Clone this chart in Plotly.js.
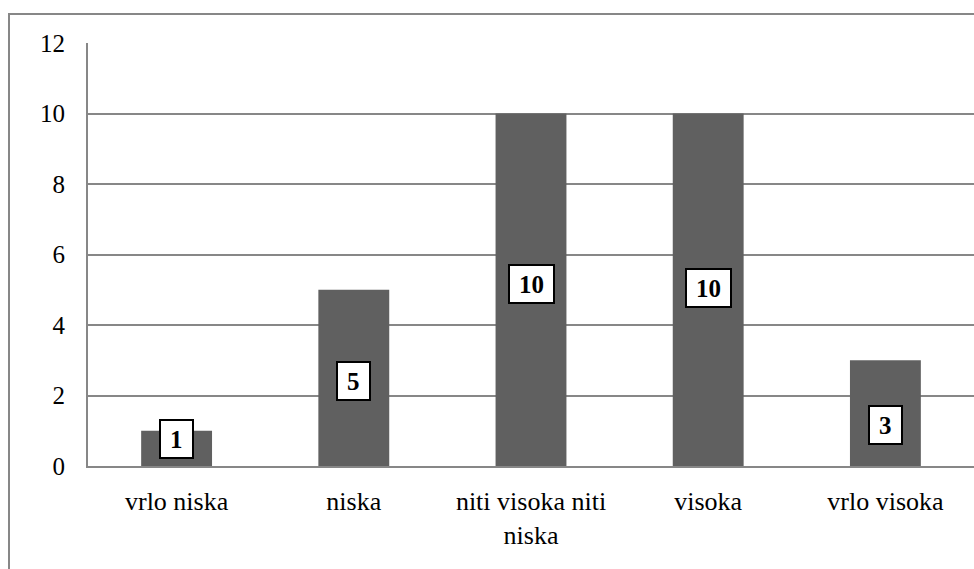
<!DOCTYPE html>
<html>
<head>
<meta charset="utf-8">
<script src="https://cdn.plot.ly/plotly-3.0.1.min.js"></script>
<style>
html, body { margin: 0; padding: 0; background: #fff; }
#frame { position: absolute; left: 8px; top: 13px; width: 1000px; height: 600px; border: 2px solid #878787; box-sizing: border-box; }
#chart { position: absolute; left: 0; top: 0; width: 974px; height: 569px; }
</style>
</head>
<body>
<div id="frame"></div>
<div id="chart"></div>
<script>
var categories = ["vrlo niska", "niska", "niti visoka niti<br>niska", "visoka", "vrlo visoka"];
var values = [1, 5, 10, 10, 3];
var labelY = [0.77, 2.4, 5.15, 5.05, 1.15];
var yTicks = [0, 2, 4, 6, 8, 10, 12];

var SERIF = "Liberation Serif";

var trace = {
  type: "bar",
  x: categories,
  y: values,
  marker: { color: "#606060" },
  width: 0.4,
  hoverinfo: "none"
};

var annotations = categories.map(function (c, i) {
  var s = String(values[i]);
  return {
    x: c, y: labelY[i], xref: "x", yref: "y",
    text: "<b>" + s + "</b>",
    showarrow: false,
    font: { family: SERIF, size: 25, color: "#000" },
    bgcolor: "#ffffff",
    bordercolor: "#000000",
    borderwidth: 2,
    borderpad: 2,
    width: s.length * 12.5 + 14,
    height: 32,
    xanchor: "center", yanchor: "middle"
  };
});

var layout = {
  width: 974, height: 569,
  margin: { l: 88, r: 0, t: 43, b: 103 },
  paper_bgcolor: "rgba(0,0,0,0)",
  plot_bgcolor: "rgba(0,0,0,0)",
  showlegend: false,
  font: { family: SERIF, size: 25, color: "#000" },
  xaxis: {
    type: "category",
    showgrid: false,
    showline: true, linecolor: "#878787", linewidth: 2,
    ticks: "", ticklabelstandoff: 11,
    tickfont: { family: SERIF, size: 26, color: "#000" }
  },
  yaxis: {
    range: [0, 12],
    tickvals: yTicks,
    showgrid: true, gridcolor: "#878787", gridwidth: 2,
    showline: true, linecolor: "#878787", linewidth: 2,
    zeroline: false,
    ticks: "", ticklabelstandoff: 16,
    tickfont: { family: SERIF, size: 25, color: "#000" }
  },
  annotations: annotations
};

Plotly.newPlot("chart", [trace], layout, { displayModeBar: false, staticPlot: true });
</script>
</body>
</html>
